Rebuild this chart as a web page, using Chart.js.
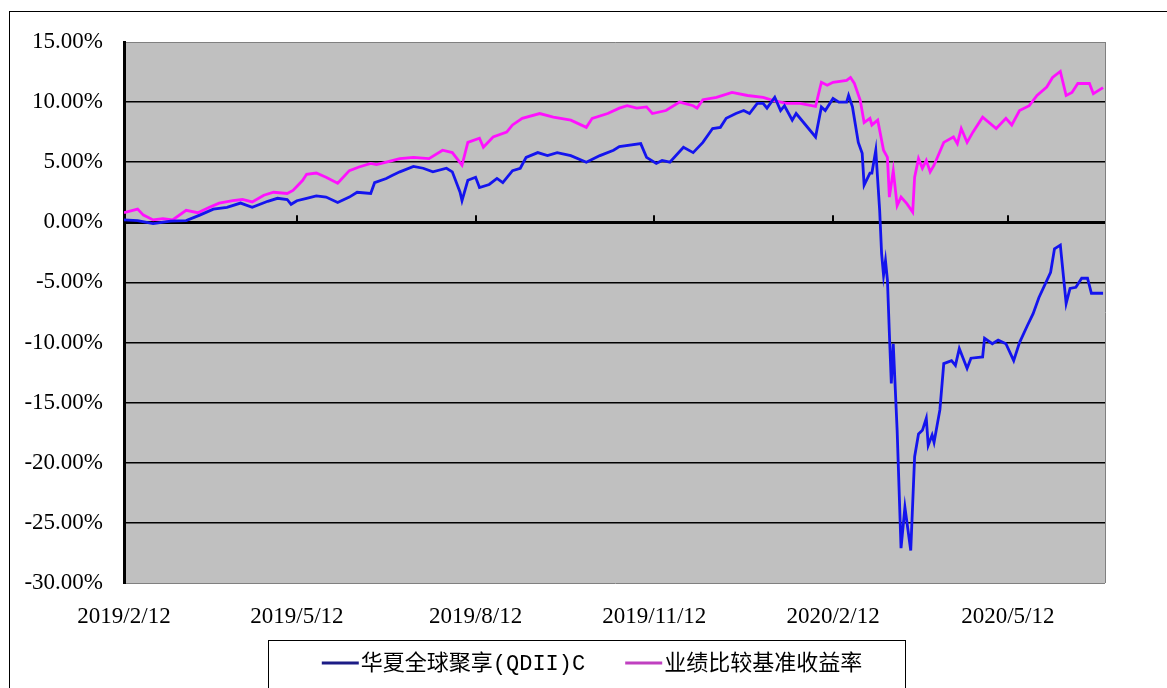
<!DOCTYPE html>
<html>
<head>
<meta charset="utf-8">
<script src="https://cdn.jsdelivr.net/npm/chart.js@4.4.0/dist/chart.umd.min.js"></script>
<style>
  html, body { margin: 0; padding: 0; background: #fff; }
</style>
</head>
<body>
<canvas id="chart" width="1167" height="688"></canvas>
<script>
// 坐标轴刻度
const xTickDates = ['2019-02-12', '2019-05-12', '2019-08-12', '2019-11-12', '2020-02-12', '2020-05-12'];
const xEndDate = '2020-07-01';
const yTicks = { min: -30, max: 15, step: 5 };

const seriesNames = ['华夏全球聚享(QDII)C', '业绩比较基准收益率'];

// 华夏全球聚享(QDII)C 累计净值增长率 (%)
const fundDates = [
  '2019-02-12', '2019-02-19', '2019-02-27', '2019-03-08', '2019-03-16', '2019-03-23', '2019-03-30',
  '2019-04-06', '2019-04-13', '2019-04-19', '2019-04-27', '2019-05-02', '2019-05-07', '2019-05-09',
  '2019-05-12', '2019-05-17', '2019-05-22', '2019-05-27', '2019-06-02', '2019-06-08', '2019-06-12',
  '2019-06-19', '2019-06-21', '2019-06-27', '2019-06-30', '2019-07-04', '2019-07-11', '2019-07-16',
  '2019-07-21', '2019-07-28', '2019-07-31', '2019-08-04', '2019-08-05', '2019-08-08', '2019-08-12',
  '2019-08-14', '2019-08-19', '2019-08-23', '2019-08-26', '2019-08-31', '2019-09-04', '2019-09-07',
  '2019-09-13', '2019-09-18', '2019-09-23', '2019-09-30', '2019-10-08', '2019-10-15', '2019-10-22',
  '2019-10-25', '2019-11-05', '2019-11-08', '2019-11-13', '2019-11-16', '2019-11-20', '2019-11-27',
  '2019-12-02', '2019-12-07', '2019-12-12', '2019-12-16', '2019-12-19', '2019-12-24', '2019-12-28',
  '2019-12-31', '2020-01-04', '2020-01-07', '2020-01-09', '2020-01-13', '2020-01-16', '2020-01-18',
  '2020-01-22', '2020-01-24', '2020-02-03', '2020-02-06', '2020-02-08', '2020-02-12', '2020-02-15',
  '2020-02-19', '2020-02-20', '2020-02-22', '2020-02-25', '2020-02-27', '2020-02-28', '2020-03-02',
  '2020-03-03', '2020-03-05', '2020-03-07', '2020-03-08', '2020-03-09', '2020-03-10', '2020-03-11',
  '2020-03-12', '2020-03-13', '2020-03-14', '2020-03-16', '2020-03-18', '2020-03-20', '2020-03-23',
  '2020-03-25', '2020-03-27', '2020-03-29', '2020-03-31', '2020-04-01', '2020-04-03', '2020-04-04',
  '2020-04-07', '2020-04-09', '2020-04-13', '2020-04-15', '2020-04-17', '2020-04-21', '2020-04-23',
  '2020-04-29', '2020-04-30', '2020-05-04', '2020-05-07', '2020-05-11', '2020-05-15', '2020-05-18',
  '2020-05-22', '2020-05-25', '2020-05-28', '2020-06-03', '2020-06-05', '2020-06-08', '2020-06-11',
  '2020-06-13', '2020-06-16', '2020-06-19', '2020-06-22', '2020-06-24', '2020-06-30'
];
const fundValues = [
  0.2, 0.15, -0.1, 0.1, 0.15, 0.6, 1.1,
  1.25, 1.6, 1.25, 1.75, 2.0, 1.9, 1.5,
  1.8, 2.0, 2.2, 2.1, 1.65, 2.1, 2.5,
  2.4, 3.3, 3.65, 3.9, 4.2, 4.65, 4.5,
  4.2, 4.5, 4.2, 2.5, 1.8, 3.5, 3.75,
  2.9, 3.15, 3.65, 3.3, 4.3, 4.5, 5.4,
  5.8, 5.55, 5.8, 5.55, 5.0, 5.55, 6.0,
  6.3, 6.55, 5.4, 4.9, 5.15, 5.0, 6.25,
  5.8, 6.65, 7.8, 7.9, 8.65, 9.05, 9.3,
  9.05, 9.9, 9.9, 9.5, 10.4, 9.3, 9.7,
  8.5, 9.05, 7.1, 9.6, 9.3, 10.3, 10.0,
  10.0, 10.55, 9.6, 6.65, 5.75, 3.1, 4.1,
  4.1, 6.0, 1.0, -2.6, -4.4, -3.2, -4.8,
  -9.25, -13.4, -10.1, -17.3, -27.1, -23.7, -27.3,
  -19.5, -17.6, -17.3, -16.3, -18.55, -17.7, -18.3,
  -15.6, -11.75, -11.5, -11.9, -10.5, -12.15, -11.3,
  -11.2, -9.65, -10.1, -9.8, -10.1, -11.5, -10.0,
  -8.6, -7.6, -6.25, -4.15, -2.2, -1.9, -6.75,
  -5.5, -5.4, -4.65, -4.65, -5.9, -5.9
];

// 业绩比较基准收益率 (%)
const benchDates = [
  '2019-02-12', '2019-02-19', '2019-02-22', '2019-02-27', '2019-03-04', '2019-03-09', '2019-03-16',
  '2019-03-22', '2019-03-28', '2019-04-02', '2019-04-09', '2019-04-14', '2019-04-19', '2019-04-25',
  '2019-04-30', '2019-05-07', '2019-05-10', '2019-05-15', '2019-05-17', '2019-05-22', '2019-05-27',
  '2019-06-02', '2019-06-08', '2019-06-13', '2019-06-19', '2019-06-22', '2019-06-27', '2019-07-04',
  '2019-07-11', '2019-07-19', '2019-07-26', '2019-07-31', '2019-08-05', '2019-08-08', '2019-08-14',
  '2019-08-16', '2019-08-21', '2019-08-28', '2019-08-31', '2019-09-05', '2019-09-14', '2019-09-21',
  '2019-09-30', '2019-10-08', '2019-10-11', '2019-10-19', '2019-10-25', '2019-10-29', '2019-11-03',
  '2019-11-08', '2019-11-11', '2019-11-18', '2019-11-25', '2019-12-02', '2019-12-04', '2019-12-07',
  '2019-12-14', '2019-12-22', '2019-12-30', '2020-01-07', '2020-01-12', '2020-01-19', '2020-01-26',
  '2020-02-03', '2020-02-06', '2020-02-09', '2020-02-12', '2020-02-19', '2020-02-21', '2020-02-23',
  '2020-02-26', '2020-02-28', '2020-03-02', '2020-03-03', '2020-03-06', '2020-03-09', '2020-03-11',
  '2020-03-12', '2020-03-14', '2020-03-16', '2020-03-18', '2020-03-21', '2020-03-24', '2020-03-25',
  '2020-03-27', '2020-03-29', '2020-03-31', '2020-04-02', '2020-04-04', '2020-04-09', '2020-04-14',
  '2020-04-16', '2020-04-18', '2020-04-21', '2020-04-24', '2020-04-29', '2020-05-06', '2020-05-11',
  '2020-05-14', '2020-05-18', '2020-05-23', '2020-05-27', '2020-06-01', '2020-06-04', '2020-06-08',
  '2020-06-11', '2020-06-14', '2020-06-17', '2020-06-23', '2020-06-25', '2020-06-30'
];
const benchValues = [
  0.8, 1.1, 0.6, 0.2, 0.3, 0.2, 1.0,
  0.8, 1.25, 1.6, 1.8, 1.9, 1.7, 2.25,
  2.5, 2.4, 2.65, 3.5, 4.0, 4.1, 3.75,
  3.25, 4.3, 4.6, 4.9, 4.8, 5.0, 5.3,
  5.4, 5.3, 6.0, 5.8, 4.75, 6.65, 7.0,
  6.25, 7.1, 7.5, 8.1, 8.65, 9.05, 8.75,
  8.5, 7.9, 8.65, 9.05, 9.5, 9.7, 9.5,
  9.6, 9.05, 9.3, 10.0, 9.7, 9.5, 10.2,
  10.4, 10.8, 10.55, 10.4, 10.15, 9.9, 9.9,
  9.65, 11.65, 11.4, 11.65, 11.8, 12.05, 11.55,
  10.15, 8.3, 8.65, 8.1, 8.5, 6.0, 5.4,
  2.1, 4.3, 1.4, 2.1, 1.55, 0.85, 3.75,
  5.3, 4.5, 5.15, 4.2, 4.75, 6.65, 7.1,
  6.55, 7.8, 6.65, 7.5, 8.75, 7.8, 8.65,
  8.1, 9.3, 9.7, 10.55, 11.25, 12.05, 12.55,
  10.55, 10.8, 11.55, 11.55, 10.7, 11.2
];

// 以 2019-02-12 为起点的天数
const BASE = Date.UTC(2019, 1, 12);
function dayOf(s) {
  const [y, m, d] = s.split('-').map(Number);
  return (Date.UTC(y, m - 1, d) - BASE) / 86400000;
}
function dayLabel(v) {
  const t = new Date(BASE + v * 86400000);
  return t.getUTCFullYear() + '/' + (t.getUTCMonth() + 1) + '/' + t.getUTCDate();
}

const legendColors = ['#1c1c86', '#c040c0'];

// 背景、外框、零轴刻度和图例
const framePlugin = {
  id: 'frame',
  beforeDraw(chart) {
    const { ctx, chartArea: a } = chart;
    ctx.save();
    ctx.fillStyle = '#fff';
    ctx.fillRect(0, 0, chart.width, chart.height);
    ctx.strokeStyle = '#000';
    ctx.lineWidth = 1;
    ctx.strokeRect(9.5, 11.5, chart.width + 20, chart.height + 20);
    ctx.fillStyle = '#c0c0c0';
    ctx.fillRect(a.left, a.top, a.right - a.left, a.bottom - a.top);
    ctx.restore();
  },
  beforeDatasetsDraw(chart) {
    const { ctx, chartArea: a, scales } = chart;
    ctx.save();
    ctx.strokeStyle = '#808080';
    ctx.lineWidth = 1;
    ctx.beginPath();
    ctx.moveTo(a.right + 0.5, a.top);
    ctx.lineTo(a.right + 0.5, a.bottom);
    ctx.stroke();
    const y0 = scales.y.getPixelForValue(0);
    ctx.strokeStyle = '#000';
    ctx.lineWidth = 2;
    scales.x.ticks.forEach(t => {
      const px = Math.round(scales.x.getPixelForValue(t.value));
      ctx.beginPath();
      ctx.moveTo(px, y0);
      ctx.lineTo(px, y0 - 7);
      ctx.stroke();
    });
    ctx.restore();
  },
  afterDraw(chart) {
    const ctx = chart.ctx;
    ctx.save();
    ctx.strokeStyle = '#000';
    ctx.lineWidth = 1;
    ctx.strokeRect(268.5, 640.5, 637, 80);
    ctx.font = '22px "Liberation Mono", "Noto Sans CJK SC"';
    ctx.textBaseline = 'middle';
    const sample = 37, gap = 2, between = 40;
    const items = chart.data.datasets.map((ds, i) => ({
      label: ds.label, color: legendColors[i], w: ctx.measureText(ds.label).width
    }));
    const total = items.reduce((s, it) => s + sample + gap + it.w, 0) + between * (items.length - 1);
    let x = 592 - total / 2;
    const y = 663;
    items.forEach(it => {
      ctx.strokeStyle = it.color;
      ctx.lineWidth = 3;
      ctx.beginPath();
      ctx.moveTo(x, y);
      ctx.lineTo(x + sample, y);
      ctx.stroke();
      ctx.fillStyle = '#000';
      ctx.fillText(it.label, x + sample + gap, y + 1);
      x += sample + gap + it.w + between;
    });
    ctx.restore();
  }
};

const ctx = document.getElementById('chart').getContext('2d');
new Chart(ctx, {
  type: 'line',
  data: {
    datasets: [
      {
        label: seriesNames[0],
        data: fundDates.map((d, i) => ({ x: dayOf(d), y: fundValues[i] })),
        borderColor: '#1414ee',
        borderWidth: 2.8,
        pointRadius: 0,
        tension: 0,
        fill: false
      },
      {
        label: seriesNames[1],
        data: benchDates.map((d, i) => ({ x: dayOf(d), y: benchValues[i] })),
        borderColor: '#ff10ff',
        borderWidth: 2.8,
        pointRadius: 0,
        tension: 0,
        fill: false
      }
    ]
  },
  options: {
    responsive: false,
    animation: false,
    events: [],
    layout: { padding: { left: 0, top: 42, right: 62, bottom: 55 } },
    plugins: { legend: { display: false }, tooltip: { enabled: false } },
    scales: {
      x: {
        type: 'linear',
        min: 0,
        max: dayOf(xEndDate),
        afterBuildTicks: scale => { scale.ticks = xTickDates.map(d => ({ value: dayOf(d) })); },
        afterFit: scale => { scale.height = 50; },
        grid: { display: false, drawTicks: false },
        border: { display: false },
        ticks: {
          autoSkip: false,
          maxRotation: 0,
          minRotation: 0,
          padding: 20,
          color: '#000',
          font: { family: 'Liberation Serif', size: 23 },
          callback: v => dayLabel(v)
        }
      },
      y: {
        min: yTicks.min,
        max: yTicks.max,
        afterFit: scale => { scale.width = 124; },
        grid: {
          drawTicks: false,
          color: c => (c.tick.value === yTicks.max || c.tick.value === yTicks.min) ? '#808080' : '#000',
          lineWidth: c => c.tick.value === 0 ? 3 : ((c.tick.value === yTicks.max || c.tick.value === yTicks.min) ? 1 : 1.5)
        },
        border: { color: '#000', width: 3 },
        ticks: {
          stepSize: yTicks.step,
          padding: 21,
          color: '#000',
          font: { family: 'Liberation Serif', size: 23 },
          callback: v => v.toFixed(2) + '%'
        }
      }
    }
  },
  plugins: [framePlugin]
});
</script>
</body>
</html>
